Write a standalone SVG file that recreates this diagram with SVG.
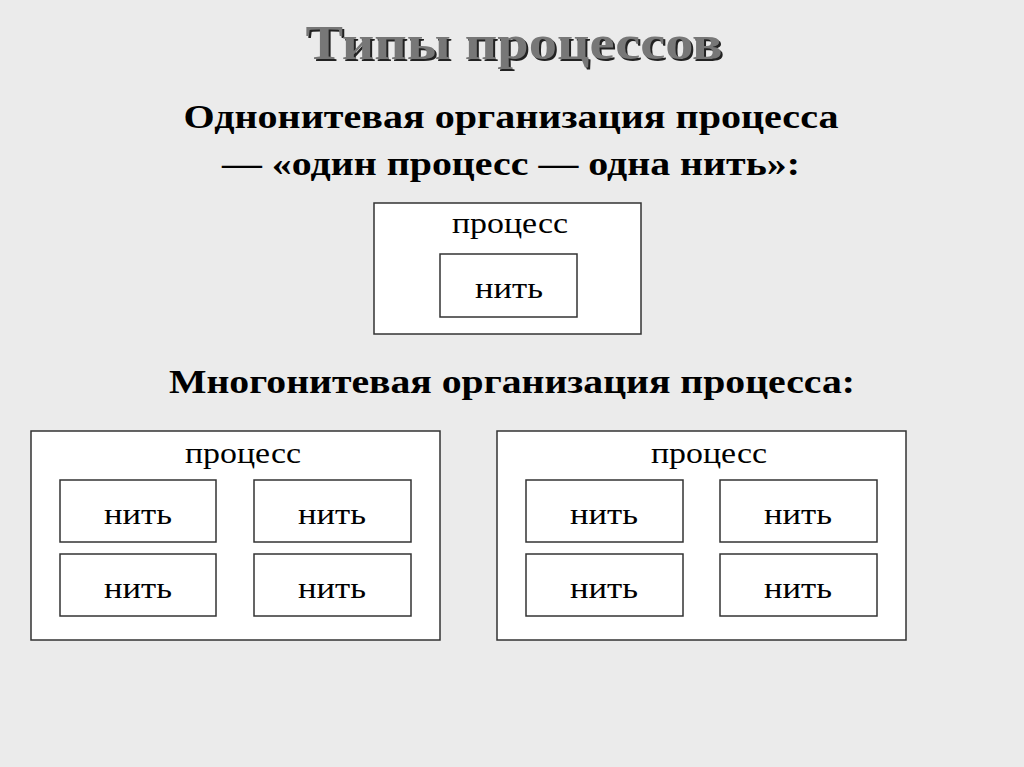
<svg xmlns="http://www.w3.org/2000/svg" width="1024" height="767" viewBox="0 0 1024 767">
<style>
.bg{fill:#ebebeb}
.box{fill:#fff;stroke:#333;stroke-width:1.5}
.t{font-family:"Liberation Serif",serif;font-size:29px;fill:#000;text-anchor:middle}
.h{font-family:"Liberation Serif",serif;font-size:34px;font-weight:bold;fill:#000;text-anchor:middle}
.title{font-family:"Liberation Serif",serif;font-size:48px;font-weight:bold;text-anchor:middle}
</style>
<rect class="bg" width="1024" height="767"/>
<text class="title" x="516" y="61" fill="#222" textLength="417" lengthAdjust="spacingAndGlyphs">Типы процессов</text>
<text class="title" x="514" y="59" fill="#777" textLength="417" lengthAdjust="spacingAndGlyphs">Типы процессов</text>
<text class="h" x="511" y="128" textLength="655" lengthAdjust="spacingAndGlyphs">Однонитевая организация процесса</text>
<text class="h" x="511" y="175" textLength="578" lengthAdjust="spacingAndGlyphs">— «один процесс — одна нить»:</text>
<text class="h" x="512" y="393" textLength="686" lengthAdjust="spacingAndGlyphs">Многонитевая организация процесса:</text>
<g id="p1"><rect class="box" x="374" y="203" width="267" height="131"/><text class="t" x="510" y="233" textLength="116" lengthAdjust="spacingAndGlyphs">процесс</text></g>
<g id="t1"><rect class="box" x="440" y="254" width="137" height="63"/><text class="t" x="509" y="298" textLength="68" lengthAdjust="spacingAndGlyphs">нить</text></g>
<g id="p2"><rect class="box" x="31" y="431" width="409" height="209"/><text class="t" x="243" y="463" textLength="116" lengthAdjust="spacingAndGlyphs">процесс</text></g>
<g id="t2"><rect class="box" x="60" y="480" width="156" height="62"/><text class="t" x="138" y="524" textLength="68" lengthAdjust="spacingAndGlyphs">нить</text></g>
<g id="t3"><rect class="box" x="254" y="480" width="157" height="62"/><text class="t" x="332" y="524" textLength="68" lengthAdjust="spacingAndGlyphs">нить</text></g>
<g id="t4"><rect class="box" x="60" y="554" width="156" height="62"/><text class="t" x="138" y="598" textLength="68" lengthAdjust="spacingAndGlyphs">нить</text></g>
<g id="t5"><rect class="box" x="254" y="554" width="157" height="62"/><text class="t" x="332" y="598" textLength="68" lengthAdjust="spacingAndGlyphs">нить</text></g>
<g id="p3"><rect class="box" x="497" y="431" width="409" height="209"/><text class="t" x="709" y="463" textLength="116" lengthAdjust="spacingAndGlyphs">процесс</text></g>
<g id="t6"><rect class="box" x="526" y="480" width="157" height="62"/><text class="t" x="604" y="524" textLength="68" lengthAdjust="spacingAndGlyphs">нить</text></g>
<g id="t7"><rect class="box" x="720" y="480" width="157" height="62"/><text class="t" x="798" y="524" textLength="68" lengthAdjust="spacingAndGlyphs">нить</text></g>
<g id="t8"><rect class="box" x="526" y="554" width="157" height="62"/><text class="t" x="604" y="598" textLength="68" lengthAdjust="spacingAndGlyphs">нить</text></g>
<g id="t9"><rect class="box" x="720" y="554" width="157" height="62"/><text class="t" x="798" y="598" textLength="68" lengthAdjust="spacingAndGlyphs">нить</text></g>
<g id="connectors"/>
</svg>
